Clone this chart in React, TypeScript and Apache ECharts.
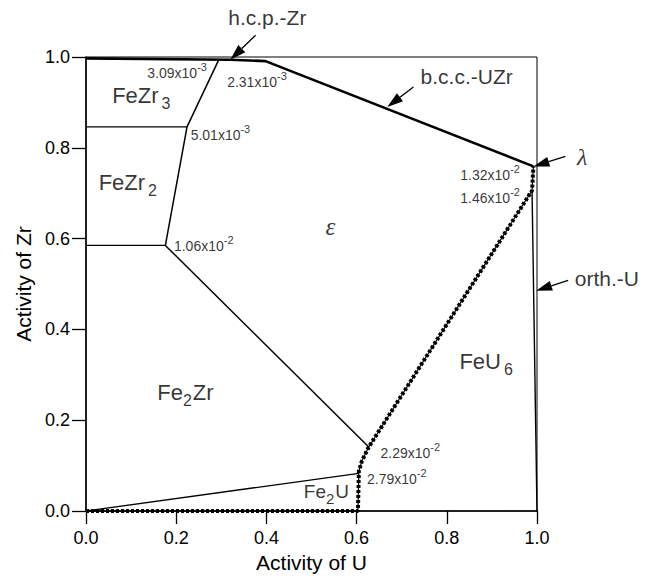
import React, { useEffect, useRef } from 'react';
import * as echarts from 'echarts';

// ---------- data (activity coordinates: x = a(U), y = a(Zr)) ----------
const axisMin = 0;
const axisMax = 1;
const axisStep = 0.2;
const xTitle = 'Activity of U';
const yTitle = 'Activity of Zr';

const bccUZrBoundary = [[0, 0.997], [0.32, 0.994], [0.398, 0.991], [0.992, 0.759]];
const epsilonLeftBoundary = [[0.294, 0.993], [0.224, 0.846], [0.176, 0.585], [0.627, 0.141]];
const feZr3FeZr2Boundary = [[0, 0.846], [0.224, 0.846]];
const feZr2Fe2ZrBoundary = [[0, 0.585], [0.176, 0.585]];
const fe2ZrFe2UBoundary = [[0, 0], [0.605, 0.083]];
const feU6OrthUBoundary = [[0.989, 0.706], [1.0, 0]];
const epsilonFeU6Boundary = [
  [0, 0], [0.603, 0], [0.605, 0.088], [0.612, 0.111], [0.627, 0.141],
  [0.989, 0.706], [0.992, 0.759],
];

const phaseNames = [
  { main: 'FeZr', sub: '3', tail: '' },
  { main: 'FeZr', sub: '2', tail: '' },
  { main: 'Fe', sub: '2', tail: 'Zr' },
  { main: 'Fe', sub: '2', tail: 'U' },
  { main: 'FeU', sub: '6', tail: '' },
];
const phaseAnchors = [[0.058, 0.915], [0.028, 0.723], [0.158, 0.262], [0.483, 0.044], [0.828, 0.329]];

const activityMantissas = ['3.09x10', '2.31x10', '5.01x10', '1.06x10', '1.32x10', '1.46x10', '2.29x10', '2.79x10'];
const activityExponents = ['-3', '-3', '-3', '-2', '-2', '-2', '-2', '-2'];
const activityAnchors = [
  [0.136, 0.964], [0.313, 0.946], [0.232, 0.828], [0.195, 0.584],
  [0.83, 0.741], [0.83, 0.689], [0.653, 0.128], [0.623, 0.071],
];

const calloutTexts = ['h.c.p.-Zr', 'b.c.c.-UZr', 'λ', 'orth.-U'];
const calloutTextAnchors = [[0.402, 1.088], [0.844, 0.956], [1.1, 0.78], [1.155, 0.512]];
const calloutArrowTails = [[0.376, 1.048], [0.726, 0.934], [1.063, 0.781], [1.069, 0.508]];
const calloutArrowTips = [[0.32, 0.994], [0.668, 0.89], [0.992, 0.759], [0.998, 0.485]];

const epsilonText = 'ε';
const epsilonAnchor = [0.542, 0.627];

// ---------- styling ----------
const FONT = '"Liberation Sans", Arial, Helvetica, sans-serif';
const SERIF = '"Liberation Serif", "Times New Roman", serif';

function boundary(data: number[][], width: number, extra: any = {}) {
  return {
    type: 'line',
    data,
    showSymbol: false,
    symbol: 'none',
    clip: false,
    silent: true,
    z: 3,
    lineStyle: { color: '#000', width, ...extra },
  };
}

export default function App() {
  const ref = useRef<HTMLDivElement>(null);

  useEffect(() => {
    if (!ref.current) return;
    const chart = echarts.init(ref.current, null, { renderer: 'svg' });

    const phaseData = phaseNames.map((p, i) => ({
      value: phaseAnchors[i],
      label: {
        formatter: `{m|${p.main}}{s|${p.sub}}` + (p.tail ? `{m|${p.tail}}` : ''),
        rich: i === 3
          ? {
              m: { fontSize: 19, lineHeight: 19, fontFamily: FONT, color: '#000' },
              s: { fontSize: 15, lineHeight: 15, fontFamily: FONT, color: '#000', padding: [15, 1, 0, 0] },
            }
          : {
              m: { fontSize: 22, lineHeight: 22, fontFamily: FONT, color: '#000' },
              s: { fontSize: 16, lineHeight: 16, fontFamily: FONT, color: '#000', padding: [16, p.tail ? 1 : 0, 0, p.tail ? 0 : 3] },
            },
      },
    }));

    const activityData = activityMantissas.map((m, i) => ({
      value: activityAnchors[i],
      label: {
        formatter: `{m|${m}}{e|${activityExponents[i]}}`,
        rich: {
          m: { fontSize: 14, lineHeight: 14, fontFamily: FONT, color: '#000' },
          e: { fontSize: 11, lineHeight: 11, fontFamily: FONT, color: '#000', padding: [0, 0, 12, 0] },
        },
      },
    }));

    const calloutData = calloutTexts.map((t, i) => ({
      value: calloutTextAnchors[i],
      label: {
        formatter: t,
        fontSize: t === 'λ' ? 24 : 21,
        fontFamily: t === 'λ' ? SERIF : FONT,
        fontStyle: t === 'λ' ? 'italic' : 'normal',
        color: '#000',
      },
    }));

    const arrowData = calloutArrowTails.map((tail, i) => [tail[0], tail[1], calloutArrowTips[i][0], calloutArrowTips[i][1]]);

    const textSeriesBase = {
      type: 'scatter',
      symbolSize: 1,
      clip: false,
      silent: true,
      z: 5,
      itemStyle: { color: 'rgba(0,0,0,0)' },
    };

    chart.setOption({
      animation: false,
      backgroundColor: '#fff',
      grid: {
        left: 86, top: 57, right: 115, bottom: 67,
        show: true, borderColor: '#000', borderWidth: 1, backgroundColor: 'transparent',
      },
      xAxis: {
        type: 'value', min: axisMin, max: axisMax, interval: axisStep,
        name: xTitle, nameLocation: 'middle', nameGap: 40,
        nameTextStyle: { fontSize: 21, fontFamily: FONT, color: '#000' },
        axisLine: { show: true, lineStyle: { color: '#000', width: 1.5 } },
        axisTick: { show: true, inside: false, length: 13, lineStyle: { color: '#000', width: 1.3 } },
        axisLabel: { fontSize: 18, fontFamily: FONT, color: '#000', margin: 18, formatter: (v: number) => v.toFixed(1) },
        splitLine: { show: false },
      },
      yAxis: {
        type: 'value', min: axisMin, max: axisMax, interval: axisStep,
        name: yTitle, nameLocation: 'middle', nameGap: 50, nameRotate: 90,
        nameTextStyle: { fontSize: 21, fontFamily: FONT, color: '#000' },
        axisLine: { show: true, lineStyle: { color: '#000', width: 1.5 } },
        axisTick: { show: true, inside: false, length: 14, lineStyle: { color: '#000', width: 1.3 } },
        axisLabel: { fontSize: 18, fontFamily: FONT, color: '#000', margin: 16, formatter: (v: number) => v.toFixed(1) },
        splitLine: { show: false },
      },
      series: [
        boundary(bccUZrBoundary, 2.6),
        boundary(epsilonLeftBoundary, 1.5),
        boundary(feZr3FeZr2Boundary, 1.3),
        boundary(feZr2Fe2ZrBoundary, 1.3),
        boundary(fe2ZrFe2UBoundary, 1.3),
        boundary(feU6OrthUBoundary, 1.4),
        boundary(epsilonFeU6Boundary, 1.2),
        boundary(epsilonFeU6Boundary, 4, { type: [3, 2], cap: 'butt' }),
        {
          type: 'custom',
          data: arrowData,
          clip: false,
          silent: true,
          z: 4,
          renderItem: (_params: any, api: any) => {
            const p1 = api.coord([api.value(0), api.value(1)]);
            const p2 = api.coord([api.value(2), api.value(3)]);
            const dx = p2[0] - p1[0];
            const dy = p2[1] - p1[1];
            const len = Math.hypot(dx, dy) || 1;
            const ux = dx / len, uy = dy / len;
            const L = 16, W = 5;
            const bx = p2[0] - ux * L, by = p2[1] - uy * L;
            const nx = -uy, ny = ux;
            return {
              type: 'group',
              children: [
                { type: 'line', shape: { x1: p1[0], y1: p1[1], x2: bx, y2: by }, style: { stroke: '#000', lineWidth: 1.3 } },
                {
                  type: 'polygon',
                  shape: { points: [[p2[0], p2[1]], [bx + nx * W, by + ny * W], [bx - nx * W, by - ny * W]] },
                  style: { fill: '#000' },
                },
              ],
            };
          },
        },
        {
          ...textSeriesBase,
          data: phaseData,
          label: { show: true, position: 'inside', align: 'left', verticalAlign: 'middle' },
        },
        {
          ...textSeriesBase,
          data: activityData,
          label: { show: true, position: 'inside', align: 'left', verticalAlign: 'middle' },
        },
        {
          ...textSeriesBase,
          data: calloutData,
          label: { show: true, position: 'inside', align: 'center', verticalAlign: 'middle' },
        },
        {
          ...textSeriesBase,
          data: [{ value: epsilonAnchor }],
          label: {
            show: true, position: 'inside', align: 'center', verticalAlign: 'middle',
            formatter: epsilonText, fontSize: 25, fontFamily: SERIF, fontStyle: 'italic', color: '#000',
          },
        },
      ],
    });

    return () => chart.dispose();
  }, []);

  return <div ref={ref} style={{ width: 652, height: 578, position: 'absolute', left: 0, top: 0, background: '#fff' }} />;
}
